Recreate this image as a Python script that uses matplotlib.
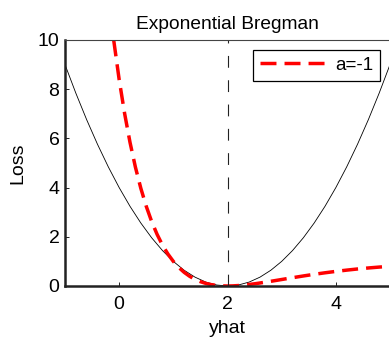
import matplotlib
matplotlib.use("Agg")
import matplotlib.pyplot as plt

plt.rcParams["font.family"] = ["Liberation Sans", "DejaVu Sans"]
plt.rcParams["lines.scale_dashes"] = False

# squared loss (x-2)^2
yhat_sq = [-1.0, -0.8, -0.6, -0.4, -0.2, 0.0, 0.2, 0.4, 0.6, 0.8, 1.0, 1.2, 1.4, 1.6, 1.8, 2.0,
           2.2, 2.4, 2.6, 2.8, 3.0, 3.2, 3.4, 3.6, 3.8, 4.0, 4.2, 4.4, 4.6, 4.8, 5.0]
loss_sq = [9.0, 7.84, 6.76, 5.76, 4.84, 4.0, 3.24, 2.56, 1.96, 1.44, 1.0, 0.64, 0.36, 0.16, 0.04, 0.0,
           0.04, 0.16, 0.36, 0.64, 1.0, 1.44, 1.96, 2.56, 3.24, 4.0, 4.84, 5.76, 6.76, 7.84, 9.0]

# exponential Bregman, a=-1
yhat_eb = [-0.1, 0.0, 0.1, 0.2, 0.3, 0.4, 0.5, 0.6, 0.7, 0.8, 0.9, 1.0, 1.1, 1.2, 1.3, 1.4, 1.5,
           1.6, 1.7, 1.8, 1.9, 2.0, 2.1, 2.2, 2.3, 2.4, 2.5, 2.6, 2.8, 3.0, 3.2, 3.4, 3.6, 3.8,
           4.0, 4.2, 4.4, 4.6, 4.8, 5.0]
loss_eb = [9.98, 8.39, 7.02, 5.84, 4.83, 3.97, 3.24, 2.62, 2.10, 1.66, 1.30, 1.0, 0.754, 0.555,
           0.396, 0.271, 0.176, 0.105, 0.055, 0.023, 0.005, 0.0, 0.005, 0.018, 0.037, 0.062,
           0.090, 0.122, 0.191, 0.264, 0.337, 0.408, 0.475, 0.537, 0.594, 0.645, 0.692, 0.733,
           0.769, 0.801]

y_true = 2

fig = plt.figure(figsize=(3.89, 3.37), dpi=100)
ax = fig.add_axes([65 / 389, 51 / 337, 325 / 389, 246 / 337])

ax.plot(yhat_sq, loss_sq, color="black", lw=0.6)
ax.plot(yhat_eb, loss_eb, color="red", lw=2.5, dashes=(11.5, 5.8), label="a=-1")
ax.axvline(y_true, color="#222222", lw=0.8, dashes=(8.5, 9))

ax.set_xlim(-1, 5)
ax.set_ylim(0, 10)
ax.set_xticks([0, 2, 4])
ax.set_yticks([0, 2, 4, 6, 8, 10])
ax.tick_params(direction="in", length=3, width=0.7, labelsize=14, colors="#222222")
ax.tick_params(axis="x", pad=7)
ax.tick_params(axis="y", pad=4)
for tl in ax.get_xticklabels() + ax.get_yticklabels():
    tl.set_color("black")

for s in ["left", "bottom"]:
    ax.spines[s].set_linewidth(1.8)
    ax.spines[s].set_color("#222222")
for s in ["top", "right"]:
    ax.spines[s].set_linewidth(0.8)
    ax.spines[s].set_color("#444444")

ax.set_title("Exponential Bregman", fontsize=13.8, pad=8)
ax.set_xlabel("yhat", fontsize=14, labelpad=5)
ax.set_ylabel("Loss", fontsize=14, labelpad=8)

leg = ax.legend(loc="upper right", fontsize=13.5, frameon=True, fancybox=False,
                handlelength=3.5, handletextpad=0.5, borderpad=0.35, borderaxespad=0.55)
leg.get_frame().set_edgecolor("black")
leg.get_frame().set_linewidth(0.9)
leg.get_frame().set_alpha(1)

fig.savefig("out.png", dpi=100)
